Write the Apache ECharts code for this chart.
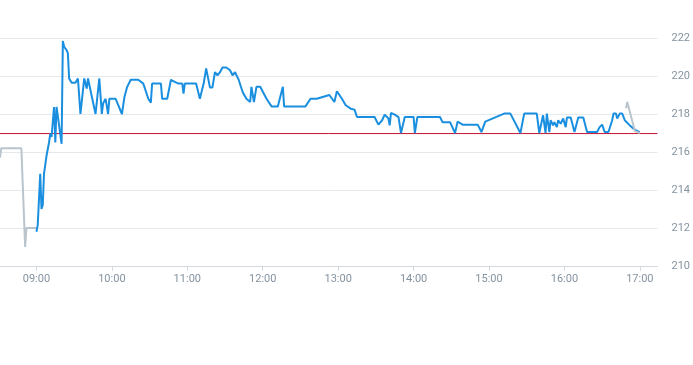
<!DOCTYPE html>
<html>
<head>
<meta charset="utf-8">
<script src="https://cdn.jsdelivr.net/npm/echarts@6/dist/echarts.min.js"></script>
<style>
html,body{margin:0;padding:0;background:#fff;}
#chart{width:693px;height:365px;}
</style>
</head>
<body>
<div id="chart"></div>
<script>
// Pre-market (grey)
var preTimes = ["08:31","08:32","08:48","08:51","08:52","09:00"];
var preValues = [215.7,216.2,216.2,211.0,212.0,212.0];

// Regular session (blue)
var mainTimes = [
"09:00","09:01","09:02","09:03","09:04","09:05","09:06","09:07","09:08","09:10",
"09:11","09:12","09:14","09:15","09:16","09:18","09:20","09:21","09:22","09:24",
"09:25","09:26","09:28","09:31","09:33","09:35","09:38","09:40","09:41","09:47",
"09:50","09:52","09:53","09:55","09:57","09:58","10:03","10:08","10:10","10:12",
"10:15","10:21","10:25","10:29","10:31","10:32","10:39","10:40","10:44","10:47",
"10:50","10:53","10:56","10:57","10:58","11:07","11:10","11:12","11:13","11:15",
"11:18","11:20","11:22","11:24","11:26","11:28","11:31","11:34","11:36","11:38",
"11:41","11:44","11:47","11:50","11:51","11:53","11:55","11:58","12:03","12:07",
"12:12","12:16","12:17","12:34","12:38","12:43","12:53","12:57","12:59","13:03",
"13:06","13:10","13:13","13:15","13:29","13:32","13:35","13:37","13:40","13:41",
"13:42","13:45","13:48","13:50","13:53","14:00","14:01","14:03","14:21","14:23",
"14:29","14:30","14:33","14:35","14:39","14:51","14:54","14:57","15:12","15:17",
"15:25","15:28","15:38","15:40","15:43","15:45","15:46","15:48","15:49","15:51",
"15:52","15:54","15:55","15:57","15:59","16:01","16:02","16:05","16:08","16:11",
"16:15","16:18","16:26","16:28","16:30","16:32","16:35","16:38","16:39","16:41",
"16:42","16:44","16:46","16:48","16:52","16:55","16:57","17:00"
];
var mainValues = [
211.8,212.15,212.2,214.85,213.0,213.2,214.85,214.9,215.8,216.5,
216.96,216.8,218.37,216.5,218.37,217.4,216.43,221.84,221.54,221.36,
221.19,219.87,219.64,219.64,219.87,218.0,219.87,219.34,219.87,218.0,
219.87,218.0,218.55,218.8,218.0,218.8,218.8,218.0,218.9,219.4,
219.8,219.8,219.6,218.8,218.6,219.6,219.6,218.8,218.8,219.8,
219.69,219.6,219.6,219.07,219.6,219.6,218.8,219.34,219.6,220.4,
219.4,219.4,220.2,220.04,220.2,220.45,220.45,220.3,220.04,220.2,
219.78,219.16,218.8,218.63,219.43,218.63,219.43,219.43,218.8,218.4,
218.4,219.43,218.4,218.4,218.8,218.8,219.0,218.63,219.2,218.8,
218.46,218.28,218.23,217.84,217.84,217.44,217.67,217.97,217.76,217.4,
218.05,217.97,217.84,217.0,217.84,217.84,217.0,217.84,217.84,217.57,
217.57,217.57,217.0,217.6,217.44,217.44,217.05,217.6,218.02,218.02,
217.0,218.02,218.02,217.0,217.93,217.0,218.02,217.05,217.67,217.4,
217.57,217.31,217.67,217.49,217.76,217.31,217.81,217.81,217.05,217.81,
217.81,217.05,217.05,217.31,217.44,217.05,217.05,217.67,218.02,218.02,
217.76,218.02,218.02,217.67,217.4,217.23,217.14,217.05
];

// Post-market (grey)
var postTimes = ["16:49","16:50","16:56","17:00"];
var postValues = [218.3,218.63,217.1,217.0];

// Reference (previous close) level
var referenceLevel = 216.97;
var axisStart = "08:31";
var axisEnd = "17:14";
var hourTicks = ["09:00","10:00","11:00","12:00","13:00","14:00","15:00","16:00","17:00"];
var yTicks = [210,212,214,216,218,220,222];

function toMin(s){var p=s.split(":");return +p[0]*60+ +p[1];}
function fmt(m){var h=Math.floor(m/60),mm=Math.round(m%60);return (h<10?"0":"")+h+":"+(mm<10?"0":"")+mm;}
function pairs(t,v){return t.map(function(s,i){return [toMin(s),v[i]];});}

var hourVals = hourTicks.map(toMin);
var labelColor = '#8593a0';

var chart = echarts.init(document.getElementById('chart'), null, {renderer:'canvas'});
chart.setOption({
  animation:false,
  backgroundColor:'#ffffff',
  grid:{left:0,right:30,top:38,bottom:99,containLabel:false},
  xAxis:{
    type:'value',
    min:toMin(axisStart),
    max:toMin(axisEnd),
    splitLine:{show:false},
    axisLine:{show:true,lineStyle:{color:'#d3d9de',width:1}},
    axisTick:{show:true,length:5,lineStyle:{color:'#d3d9de'},customValues:hourVals},
    axisLabel:{customValues:hourVals,formatter:function(v){return fmt(v);},color:labelColor,fontSize:11,fontFamily:'Roboto, Arial, sans-serif',margin:8}
  },
  yAxis:{
    type:'value',
    position:'right',
    min:yTicks[0],
    max:yTicks[yTicks.length-1],
    interval:2,
    axisLine:{show:false},
    axisTick:{show:false},
    splitLine:{show:true,lineStyle:{color:'#e6e9ec',width:1}},
    axisLabel:{color:labelColor,fontSize:11,fontFamily:'Roboto, Arial, sans-serif',margin:14}
  },
  series:[
    {
      type:'line',
      data:[[toMin(axisStart),referenceLevel],[toMin(axisEnd),referenceLevel]],
      showSymbol:false,
      silent:true,
      lineStyle:{color:'#c8102e',width:1},
      itemStyle:{color:'#c8102e'},
      z:1
    },
    {
      type:'line',
      data:pairs(preTimes,preValues),
      showSymbol:false,
      lineStyle:{color:'#b9c4cc',width:2},
      itemStyle:{color:'#b9c4cc'},
      z:2
    },
    {
      type:'line',
      data:pairs(mainTimes,mainValues),
      showSymbol:false,
      lineStyle:{color:'#1a8fe0',width:2},
      itemStyle:{color:'#1a8fe0'},
      z:3
    },
    {
      type:'line',
      data:pairs(postTimes,postValues),
      showSymbol:false,
      lineStyle:{color:'#b9c4cc',width:2},
      itemStyle:{color:'#b9c4cc'},
      z:4
    }
  ]
});
</script>
</body>
</html>
